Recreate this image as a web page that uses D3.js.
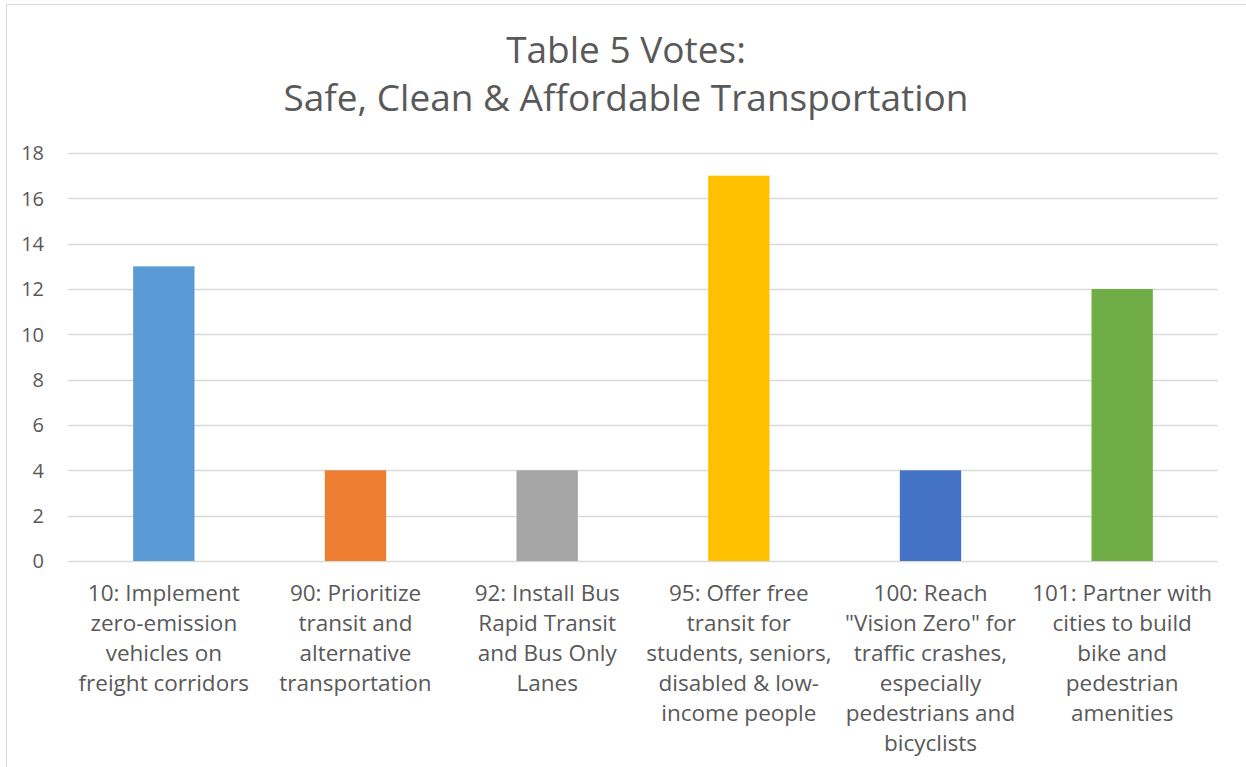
<!DOCTYPE html>
<html lang="en">
  <head>
    <meta charset="utf-8">
    <title>Table 5 Votes</title>
    <script src="https://d3js.org/d3.v7.min.js"></script>
    <style>
      body { margin: 0; background: #fff; }
      text { font-family: "Open Sans", "Noto Sans", sans-serif; fill: #595959; }
    </style>
  </head>
  <body>
    <script>
      // data
      let categories = [
        "10: Implement zero-emission vehicles on freight corridors",
        "90: Prioritize transit and alternative transportation",
        "92: Install Bus Rapid Transit and Bus Only Lanes",
        "95: Offer free transit for students, seniors, disabled & low-income people",
        "100: Reach \"Vision Zero\" for traffic crashes, especially pedestrians and bicyclists",
        "101: Partner with cities to build bike and pedestrian amenities"
      ];
      let labelLines = [
        ["10: Implement", "zero-emission", "vehicles on", "freight corridors"],
        ["90: Prioritize", "transit and", "alternative", "transportation"],
        ["92: Install Bus", "Rapid Transit", "and Bus Only", "Lanes"],
        ["95: Offer free", "transit for", "students, seniors,", "disabled & low-", "income people"],
        ["100: Reach", "\"Vision Zero\" for", "traffic crashes,", "especially", "pedestrians and", "bicyclists"],
        ["101: Partner with", "cities to build", "bike and", "pedestrian", "amenities"]
      ];
      let votes = [13, 4, 4, 17, 4, 12];
      let colors = ["#5B9BD5", "#ED7D31", "#A5A5A5", "#FFC000", "#4472C4", "#70AD47"];
      let yTicks = [0, 2, 4, 6, 8, 10, 12, 14, 16, 18];

      let W = 1246, H = 767;
      let margin = {top: 153, right: 28, bottom: 206, left: 68};

      let svg = d3.select("body").append("svg")
                  .attr("width", W)
                  .attr("height", H);

      // chart border (left and top edges visible)
      svg.append("path")
         .attr("d", "M6.5," + H + "V4.5H" + W)
         .attr("fill", "none")
         .attr("stroke", "#d9d9d9")
         .attr("stroke-width", 1);

      // title
      let title = svg.append("text")
                     .attr("text-anchor", "middle")
                     .style("font-size", "37px");
      title.append("tspan").attr("x", 626).attr("y", 63).text("Table 5 Votes:");
      title.append("tspan").attr("x", 626).attr("y", 111).text("Safe, Clean & Affordable Transportation");

      let x = d3.scaleBand()
                .domain(categories)
                .range([margin.left, W - margin.right])
                .paddingInner(0.68)
                .paddingOuter(0.34);

      let y = d3.scaleLinear()
                .domain([0, 18])
                .range([H - margin.bottom, margin.top]);

      // gridlines
      svg.append("g")
         .selectAll("line")
         .data(yTicks)
         .enter()
         .append("line")
         .attr("x1", margin.left)
         .attr("x2", W - margin.right)
         .attr("y1", d => Math.round(y(d)) + 0.5)
         .attr("y2", d => Math.round(y(d)) + 0.5)
         .attr("stroke", "#d9d9d9")
         .attr("stroke-width", 1.3);

      // y tick labels
      svg.append("g")
         .selectAll("text")
         .data(yTicks)
         .enter()
         .append("text")
         .attr("x", 44)
         .attr("y", d => y(d))
         .attr("dy", "0.36em")
         .attr("text-anchor", "end")
         .style("font-size", "20px")
         .text(d => d);

      // bars
      svg.append("g")
         .selectAll("rect")
         .data(votes)
         .enter()
         .append("rect")
         .attr("x", (d, i) => x(categories[i]))
         .attr("width", x.bandwidth())
         .attr("y", d => y(d))
         .attr("height", d => y(0) - y(d))
         .attr("fill", (d, i) => colors[i]);

      // category labels
      let cats = svg.append("g")
                    .selectAll("text")
                    .data(categories)
                    .enter()
                    .append("text")
                    .attr("text-anchor", "middle")
                    .style("font-size", "22.5px");

      cats.each(function(d, i) {
        let cx = x(d) + x.bandwidth() / 2;
        d3.select(this).selectAll("tspan")
          .data(labelLines[i])
          .enter()
          .append("tspan")
          .attr("x", cx)
          .attr("y", (t, j) => 601 + j * 30)
          .text(t => t);
      });
    </script>
  </body>
</html>
